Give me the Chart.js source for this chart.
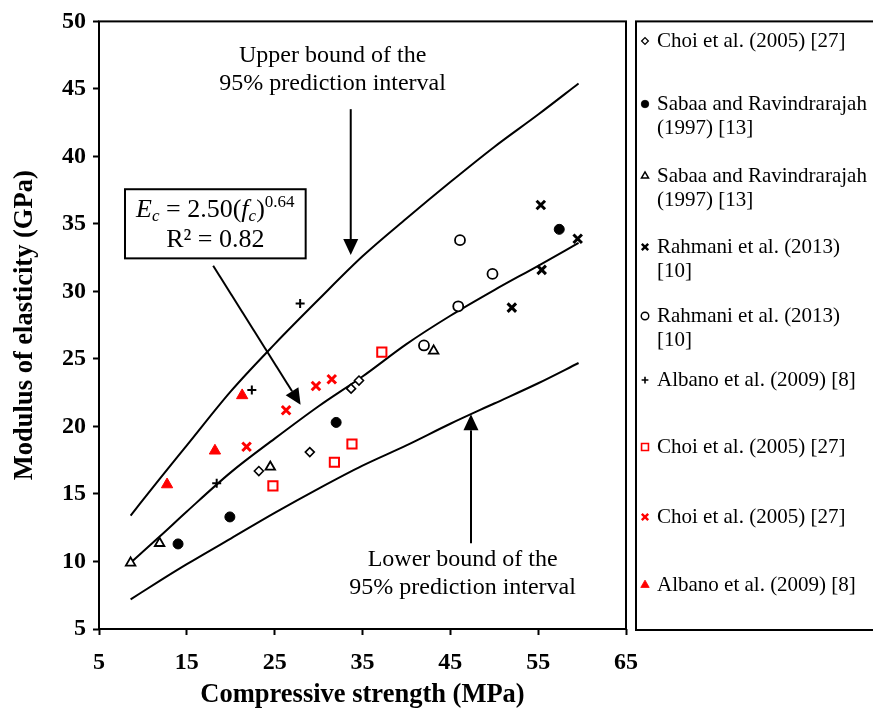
<!DOCTYPE html>
<html>
<head>
<meta charset="utf-8">
<script src="https://cdn.jsdelivr.net/npm/chart.js@4.4.1/dist/chart.umd.min.js"></script>
<style>
  html, body { margin: 0; padding: 0; background: #fff; }
  #wrap { width: 873px; height: 713px; }
</style>
</head>
<body>
<div id="wrap"><canvas id="chart"></canvas></div>
<script>
// values: x = compressive strength (MPa), y = modulus (GPa)
const choiDiamondX = [23.2, 29.0, 33.7, 34.6];
const choiDiamondY = [16.7, 18.1, 22.8, 23.4];
const sabaaDotX = [14.0, 19.9, 32.0, 57.4];
const sabaaDotY = [11.3, 13.3, 20.3, 34.6];
const sabaaTriX = [8.6, 11.9, 24.5, 43.1];
const sabaaTriY = [9.9, 11.35, 17.0, 25.6];
const rahmaniStarX = [55.3, 59.5, 55.4, 52.0];
const rahmaniStarY = [36.4, 33.9, 31.6, 28.8];
const rahmaniCircX = [46.1, 49.8, 45.9, 42.0];
const rahmaniCircY = [33.8, 31.3, 28.9, 26.0];
const albanoPlusX = [27.9, 22.4, 18.4];
const albanoPlusY = [29.1, 22.7, 15.8];
const choiSquareX = [33.8, 31.8, 24.8, 37.2];
const choiSquareY = [18.7, 17.35, 15.6, 25.5];
const choiCrossX = [26.3, 29.7, 31.5, 21.8];
const choiCrossY = [21.2, 23.0, 23.5, 18.5];
const albanoTriX = [21.3, 18.2, 12.75];
const albanoTriY = [22.3, 18.2, 15.7];

// fitted curve and 95% prediction bounds
const curveX = [8.6, 12, 15, 20, 25, 30, 35, 40, 45, 50, 55, 59.6];
const fitY = [9.9, 11.9, 13.7, 16.6, 19.1, 21.5, 23.7, 26.1, 28.2, 30.1, 31.9, 33.6];
const upperY = [13.4, 16.2, 18.6, 22.6, 26.1, 29.4, 32.6, 35.4, 38.1, 40.7, 43.1, 45.4];
const lowerY = [7.2, 8.6, 9.8, 11.7, 13.6, 15.4, 17.1, 18.6, 20.2, 21.7, 23.2, 24.7];

const xTicks = [5, 15, 25, 35, 45, 55, 65];
const yTicks = [5, 10, 15, 20, 25, 30, 35, 40, 45, 50];

const legendLabels = [
  ['Choi et al. (2005) [27]'],
  ['Sabaa and Ravindrarajah', '(1997) [13]'],
  ['Sabaa and Ravindrarajah', '(1997) [13]'],
  ['Rahmani et al. (2013)', '[10]'],
  ['Rahmani et al. (2013)', '[10]'],
  ['Albano et al. (2009) [8]'],
  ['Choi et al. (2005) [27]'],
  ['Choi et al. (2005) [27]'],
  ['Albano et al. (2009) [8]']
];

function pts(xs, ys) {
  return xs.map((x, i) => ({ x: x, y: ys[i] }));
}

function marker(label, xs, ys, style, radius, color, fill, bw) {
  return {
    label: label,
    data: pts(xs, ys),
    showLine: false,
    pointStyle: style,
    pointRadius: radius,
    pointHoverRadius: radius,
    pointBorderColor: color,
    pointBackgroundColor: fill,
    pointBorderWidth: bw
  };
}

function curve(label, ys) {
  return {
    label: label,
    data: pts(curveX, ys),
    showLine: true,
    borderColor: '#000',
    borderWidth: 2,
    pointRadius: 0,
    cubicInterpolationMode: 'monotone',
    fill: false
  };
}

const RED = '#ff0000';
const SERIF = "'Liberation Serif', 'Times New Roman', serif";

const datasets = [
  marker(legendLabels[0].join(' '), choiDiamondX, choiDiamondY, 'rectRot', 4.5, '#000', '#fff', 1.6),
  marker(legendLabels[1].join(' '), sabaaDotX, sabaaDotY, 'circle', 5, '#000', '#000', 1),
  marker(legendLabels[2].join(' '), sabaaTriX, sabaaTriY, 'triangle', 5.5, '#000', '#fff', 1.8),
  marker(legendLabels[3].join(' '), rahmaniStarX, rahmaniStarY, 'crossRot', 6, '#000', '#000', 3),
  marker(legendLabels[4].join(' '), rahmaniCircX, rahmaniCircY, 'circle', 5, '#000', '#fff', 1.8),
  marker(legendLabels[5].join(' '), albanoPlusX, albanoPlusY, 'cross', 4.5, '#000', '#000', 2),
  marker(legendLabels[6].join(' '), choiSquareX, choiSquareY, 'rect', 6.5, RED, '#fff', 2),
  marker(legendLabels[7].join(' '), choiCrossX, choiCrossY, 'crossRot', 6, RED, RED, 3),
  marker(legendLabels[8].join(' '), albanoTriX, albanoTriY, 'triangle', 6.5, RED, RED, 1),
  curve('fit', fitY),
  curve('upper', upperY),
  curve('lower', lowerY)
];

function arrow(ctx, x1, y1, x2, y2) {
  const ang = Math.atan2(y2 - y1, x2 - x1);
  const len = 16, half = 7.5;
  const bx = x2 - len * Math.cos(ang), by = y2 - len * Math.sin(ang);
  ctx.beginPath();
  ctx.moveTo(x1, y1);
  ctx.lineTo(bx, by);
  ctx.stroke();
  ctx.beginPath();
  ctx.moveTo(x2, y2);
  ctx.lineTo(bx + half * Math.sin(ang), by - half * Math.cos(ang));
  ctx.lineTo(bx - half * Math.sin(ang), by + half * Math.cos(ang));
  ctx.closePath();
  ctx.fill();
}

// draws the frame, the annotations and the boxed legend on the right
const decorations = {
  id: 'decorations',
  afterDraw(chart) {
    const ctx = chart.ctx, a = chart.chartArea;
    const px = v => chart.scales.x.getPixelForValue(v);
    const py = v => chart.scales.y.getPixelForValue(v);
    ctx.save();
    ctx.strokeStyle = '#000';
    ctx.fillStyle = '#000';
    ctx.lineWidth = 2;
    ctx.strokeRect(a.left, a.top, a.right - a.left, a.bottom - a.top);

    // annotation text
    ctx.font = '24px ' + SERIF;
    ctx.textAlign = 'center';
    ctx.textBaseline = 'middle';
    ctx.fillText('Upper bound of the', px(31.6), py(47.45));
    ctx.fillText('95% prediction interval', px(31.6), py(45.35));
    ctx.fillText('Lower bound of the', px(46.4), py(10.15));
    ctx.fillText('95% prediction interval', px(46.4), py(8.05));

    arrow(ctx, px(33.66), py(43.5), px(33.66), py(32.7));
    arrow(ctx, px(47.35), py(11.35), px(47.35), py(20.9));
    arrow(ctx, px(18.0), py(31.9), px(27.95), py(21.6));

    // equation box
    const bx1 = px(7.96), bx2 = px(28.53), by1 = py(37.57), by2 = py(32.45);
    ctx.fillStyle = '#fff';
    ctx.fillRect(bx1, by1, bx2 - bx1, by2 - by1);
    ctx.fillStyle = '#000';
    ctx.strokeRect(bx1, by1, bx2 - bx1, by2 - by1);
    const cx = (bx1 + bx2) / 2;
    const parts = [
      ['E', 'italic 26px ', 0],
      ['c', 'italic 17px ', 6],
      [' = 2.50(', '26px ', 0],
      ['f', 'italic 26px ', 0],
      ['c', 'italic 17px ', 6],
      [')', '26px ', 0],
      ['0.64', '17px ', -8]
    ];
    let w = 0;
    parts.forEach(p => { ctx.font = p[1] + SERIF; w += ctx.measureText(p[0]).width; });
    let x = cx - w / 2;
    const ly = by1 + 21;
    ctx.textAlign = 'left';
    ctx.textBaseline = 'middle';
    parts.forEach(p => {
      ctx.font = p[1] + SERIF;
      ctx.fillText(p[0], x, ly + p[2]);
      x += ctx.measureText(p[0]).width;
    });
    ctx.font = '26px ' + SERIF;
    ctx.textAlign = 'center';
    ctx.fillText('R\u00b2 = 0.82', cx, by1 + 51);

    // legend
    ctx.lineWidth = 2;
    ctx.strokeRect(636, a.top, 260, a.bottom - a.top + 1);
    const rows = [41, 104, 176, 247, 316, 380, 447, 517, 585];
    ctx.font = '21px ' + SERIF;
    legendLabels.forEach((lines, i) => {
      const ds = chart.data.datasets[i];
      ctx.fillStyle = ds.pointBackgroundColor;
      ctx.strokeStyle = ds.pointBorderColor;
      ctx.lineWidth = ds.pointBorderWidth * 0.8;
      Chart.helpers.drawPoint(ctx, {
        pointStyle: ds.pointStyle, rotation: 0,
        radius: ds.pointRadius * 0.75, borderWidth: ds.pointBorderWidth * 0.8
      }, 645, rows[i]);
      ctx.fillStyle = '#000';
      ctx.textAlign = 'left';
      lines.forEach((t, j) => ctx.fillText(t, 657, rows[i] + j * 24));
    });
    ctx.restore();
  }
};

new Chart(document.getElementById('chart'), {
  type: 'scatter',
  data: { datasets: datasets },
  options: {
    responsive: true,
    maintainAspectRatio: false,
    animation: false,
    layout: { padding: { left: 0, right: 247, top: 17, bottom: 0 } },
    plugins: { legend: { display: false }, tooltip: { enabled: false } },
    scales: {
      x: {
        type: 'linear', min: 5, max: 65,
        afterBuildTicks: s => { s.ticks = xTicks.map(v => ({ value: v })); },
        afterFit: s => { s.height = 84; },
        border: { display: false },
        grid: { drawOnChartArea: false, drawTicks: true, tickLength: 6, tickColor: '#000', tickWidth: 2 },
        ticks: { color: '#000', padding: 13, font: { family: SERIF, size: 24, weight: 'bold' } },
        title: {
          display: true, text: 'Compressive strength (MPa)', color: '#000',
          font: { family: SERIF, size: 26.5, weight: 'bold' }, padding: { top: 0, bottom: 2 }
        }
      },
      y: {
        type: 'linear', min: 5, max: 50,
        afterBuildTicks: s => { s.ticks = yTicks.map(v => ({ value: v })); },
        afterFit: s => { s.width = 99; },
        border: { display: false },
        grid: { drawOnChartArea: false, drawTicks: true, tickLength: 6, tickColor: '#000', tickWidth: 2 },
        ticks: { color: '#000', padding: 7, font: { family: SERIF, size: 24, weight: 'bold' } },
        title: {
          display: true, text: 'Modulus of elasticity (GPa)', color: '#000',
          font: { family: SERIF, size: 26.5, weight: 'bold' }, padding: { top: 9, bottom: 0 }
        }
      }
    }
  },
  plugins: [decorations]
});
</script>
</body>
</html>
